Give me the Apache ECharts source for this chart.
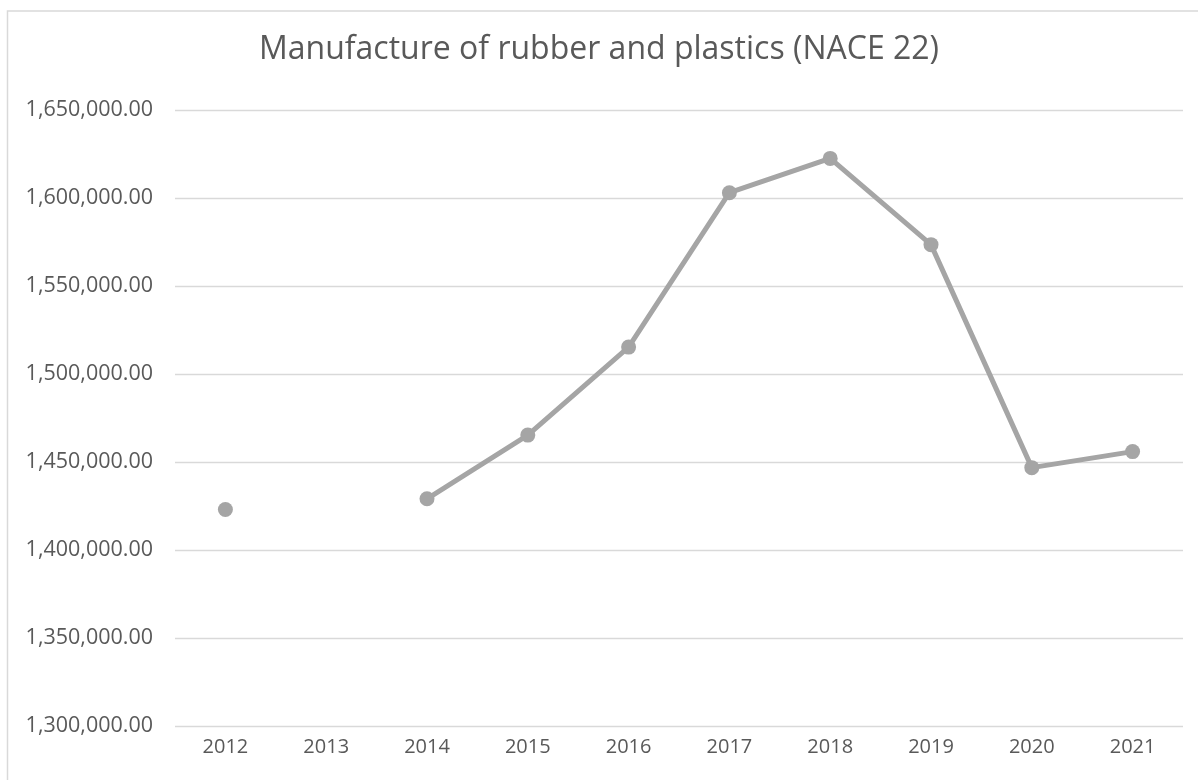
<!DOCTYPE html>
<html>
<head>
<meta charset="utf-8">
<script src="https://cdn.jsdelivr.net/npm/echarts@6/dist/echarts.min.js"></script>
<style>html,body{margin:0;padding:0;background:#fff}#c{width:1198px;height:780px}</style>
</head>
<body>
<div id="c"></div>
<script>
const titleText = 'Manufacture of rubber and plastics (NACE 22)';
const years = ['2012','2013','2014','2015','2016','2017','2018','2019','2020','2021'];
const values = [1423000, null, 1429100, 1465300, 1515300, 1603000, 1622500, 1573500, 1446800, 1455900];
const yMin = 1300000, yMax = 1650000, yStep = 50000;

const chart = echarts.init(document.getElementById('c'), null, {renderer: 'canvas'});
const fmt = v => v.toLocaleString('en-US', {minimumFractionDigits: 2, maximumFractionDigits: 2});
chart.setOption({
  animation: false,
  backgroundColor: '#ffffff',
  title: {
    text: titleText, left: 'center', top: 29,
    textStyle: {fontFamily: 'Open Sans', fontSize: 32, fontWeight: 'normal', color: '#595959'}
  },
  graphic: [{
    type: 'rect', shape: {x: 7.5, y: 11, width: 1400, height: 1000},
    style: {fill: 'none', stroke: '#d9d9d9', lineWidth: 1.5}, silent: true
  }],
  grid: {left: 175, right: 15, top: 110, bottom: 54},
  xAxis: {
    type: 'category', data: years, boundaryGap: true,
    axisLine: {show: false}, axisTick: {show: false},
    axisLabel: {fontFamily: 'Open Sans', fontSize: 20, color: '#595959', margin: 11}
  },
  yAxis: {
    type: 'value', min: yMin, max: yMax, interval: yStep,
    axisLine: {show: false}, axisTick: {show: false},
    splitLine: {lineStyle: {color: '#d9d9d9', width: 1.3}},
    axisLabel: {fontFamily: 'Open Sans', fontSize: 21.5, color: '#595959', margin: 22, formatter: fmt}
  },
  series: [{
    type: 'line', data: values, connectNulls: false,
    symbol: 'circle', symbolSize: 15, showAllSymbol: true,
    lineStyle: {color: '#a5a5a5', width: 5},
    itemStyle: {color: '#a5a5a5'}
  }]
});
</script>
</body>
</html>
